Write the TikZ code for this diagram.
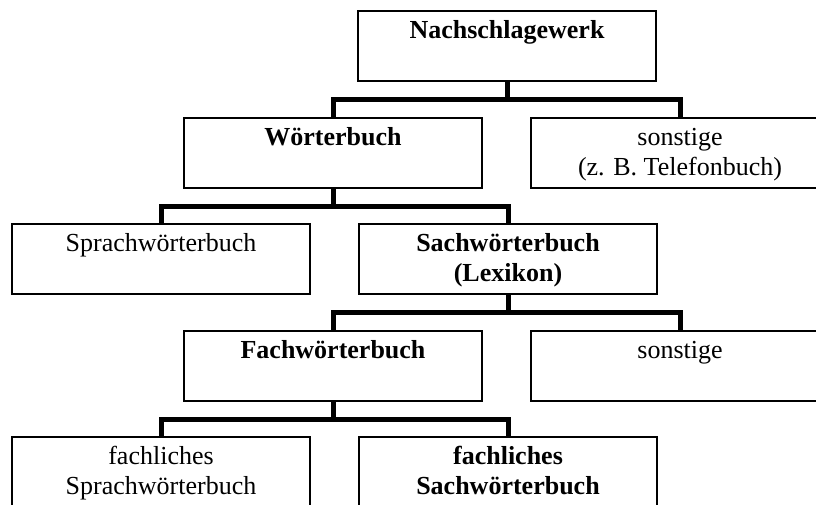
\documentclass[tikz,border=0pt]{standalone}
\usepackage{fontspec}
\setmainfont{Liberation Serif}
\begin{document}
\begin{tikzpicture}[x=1pt,y=-1pt,
  box/.style={draw, line width=1.4pt, minimum width=298pt, minimum height=70pt, inner sep=0pt, outer sep=0pt},
  keybox/.style={box, line width=2.8pt},
  lbl/.style={inner sep=0pt, font=\fontsize{26}{30}\selectfont, anchor=base},
  conn/.style={line width=5pt}]
\useasboundingbox (0,0) rectangle (816,504);
\clip (0,0) rectangle (816,504);
% boxes
\node[keybox] (b1) at (507,46) {};
\node[box] (b2) at (333,153) {};
\node[box] (b3) at (680,153) {};
\node[box] (b4) at (161,259) {};
\node[keybox] (b5) at (508,259) {};
\node[box] (b6) at (333,366) {};
\node[box] (b7) at (680,366) {};
\node[box] (b8) at (161,472) {};
\node[keybox] (b9) at (508,472) {};
% labels
\newcommand{\twol}[2]{\begin{tabular}[t]{@{}c@{}}#1\\#2\end{tabular}}
\node[lbl] (t1) at ([yshift=-27pt]b1.north) {\textbf{Nachschlagewerk}};
\node[lbl] (t2) at ([yshift=-27pt]b2.north) {\textbf{Wörterbuch}};
\node[lbl] (t3) at ([yshift=-27pt]b3.north) {\twol{sonstige}{(z. B. Telefonbuch)}};
\node[lbl] (t4) at ([yshift=-27pt]b4.north) {Sprachwörterbuch};
\node[lbl] (t5) at ([yshift=-27pt]b5.north) {\bfseries\twol{Sachwörterbuch}{(Lexikon)}};
\node[lbl] (t6) at ([yshift=-27pt]b6.north) {\textbf{Fachwörterbuch}};
\node[lbl] (t7) at ([yshift=-27pt]b7.north) {sonstige};
\node[lbl] (t8) at ([yshift=-27pt]b8.north) {\twol{fachliches}{Sprachwörterbuch}};
\node[lbl] (t9) at ([yshift=-27pt]b9.north) {\bfseries\twol{fachliches}{Sachwörterbuch}};
% connectors
\draw[conn] (b1.south) -- ++(0,18) -| (b2.north);
\draw[conn] (b1.south) -- ++(0,18) -| (b3.north);
\draw[conn] (b2.south) -- ++(0,18) -| (b4.north);
\draw[conn] (b2.south) -- ++(0,18) -| (b5.north);
\draw[conn] (b5.south) -- ++(0,18) -| (b6.north);
\draw[conn] (b5.south) -- ++(0,18) -| (b7.north);
\draw[conn] (b6.south) -- ++(0,18) -| (b8.north);
\draw[conn] (b6.south) -- ++(0,18) -| (b9.north);
\end{tikzpicture}
\end{document}
